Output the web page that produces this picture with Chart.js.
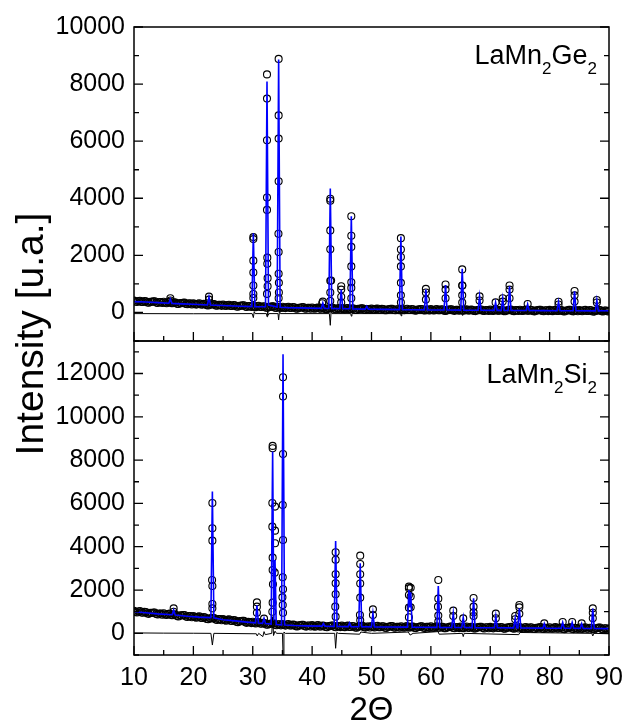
<!DOCTYPE html>
<html>
<head>
<meta charset="utf-8">
<title>LaMn2Ge2 / LaMn2Si2 XRD</title>
<script src="https://cdn.jsdelivr.net/npm/chart.js@4.4.0/dist/chart.umd.min.js"></script>
<style>
  body { margin: 0; background: #fff; }
  #wrap { position: relative; width: 626px; height: 727px; overflow: hidden; font-family: "Liberation Sans", Arial, sans-serif; }
  #topChart { position: absolute; left: 0; top: 0; }
  #bottomChart { position: absolute; left: 0; top: 340px; }
  #yTitle { position: absolute; left: -120px; top: 314px; width: 300px; height: 40px; line-height: 40px;
            text-align: center; font-size: 39px; color: #000; white-space: nowrap; transform: rotate(-90deg); }
</style>
</head>
<body>
<div id="wrap">
  <canvas id="topChart" width="626" height="342"></canvas>
  <canvas id="bottomChart" width="626" height="387"></canvas>
  <div id="yTitle">Intensity [u.a.]</div>
</div>
<script>
const FONT = '"Liberation Sans", Arial, sans-serif';

// axis ticks
const thetaTicks = [10, 20, 30, 40, 50, 60, 70, 80, 90];
const geTicks = [0, 2000, 4000, 6000, 8000, 10000];
const siTicks = [0, 2000, 4000, 6000, 8000, 10000, 12000];

// sample labels (normal, subscript, normal, subscript)
const geLabel = ['LaMn', '2', 'Ge', '2'];
const siLabel = ['LaMn', '2', 'Si', '2'];

// observed background, one value every 0.25 deg from 10 to 90 (one row = 5 deg)
const bgStart = 10;
const bgStep = 0.25;
const geBackground = [
  415, 383, 366, 399, 412, 370, 368, 396, 389, 347, 340, 373, 371, 389, 390, 345, 333, 366, 364, 332,
  375, 342, 325, 357, 370, 327, 325, 352, 345, 302, 295, 327, 325, 342, 343, 297, 285, 317, 315, 282,
  325, 292, 275, 307, 320, 277, 275, 302, 295, 252, 245, 277, 275, 292, 293, 247, 235, 267, 265, 232,
  275, 243, 226, 259, 272, 230, 228, 256, 249, 207, 200, 233, 231, 249, 250, 205, 193, 226, 224, 192,
  235, 203, 186, 220, 233, 191, 189, 218, 211, 169, 162, 196, 194, 212, 213, 169, 157, 190, 188, 157,
  200, 169, 152, 186, 200, 159, 157, 186, 180, 139, 132, 166, 165, 184, 185, 141, 130, 164, 162, 131,
  175, 144, 128, 162, 176, 135, 134, 163, 157, 116, 110, 144, 143, 162, 164, 120, 109, 143, 142, 111,
  155, 124, 108, 142, 156, 115, 114, 143, 137, 96, 90, 124, 123, 142, 144, 100, 89, 123, 122, 91,
  135, 105, 89, 124, 138, 98, 97, 127, 121, 81, 75, 110, 109, 129, 131, 88, 77, 112, 111, 81,
  125, 95, 79, 114, 128, 88, 87, 117, 111, 71, 65, 100, 99, 119, 121, 78, 67, 102, 101, 71,
  115, 85, 69, 104, 118, 78, 77, 107, 101, 61, 55, 90, 89, 109, 111, 68, 57, 92, 91, 61,
  105, 75, 60, 94, 109, 69, 68, 98, 93, 52, 47, 82, 81, 101, 104, 60, 50, 85, 85, 55,
  99, 69, 54, 89, 104, 63, 63, 93, 88, 48, 42, 77, 77, 97, 100, 56, 46, 81, 81, 51,
  95, 65, 50, 85, 100, 59, 59, 89, 84, 44, 38, 73, 73, 93, 96, 52, 42, 77, 77, 47,
  91, 61, 46, 81, 96, 55, 55, 85, 80, 40, 34, 69, 69, 89, 92, 48, 38, 73, 73, 43,
  87, 57, 42, 77, 92, 51, 51, 81, 76, 36, 30, 65, 65, 85, 88, 44, 34, 69, 69, 39,
  58
];
const siBackground = [
  1043, 991, 963, 1009, 1026, 960, 954, 993, 979, 913, 900, 947, 941, 965, 963, 893, 871, 918, 912, 861,
  926, 874, 846, 892, 909, 843, 837, 876, 862, 796, 783, 830, 824, 848, 846, 776, 754, 801, 795, 744,
  804, 751, 722, 767, 783, 716, 709, 747, 732, 665, 651, 697, 690, 713, 710, 639, 616, 662, 655, 603,
  665, 612, 584, 629, 646, 579, 573, 611, 597, 530, 517, 563, 557, 580, 578, 507, 485, 531, 525, 473,
  535, 483, 455, 501, 518, 452, 446, 485, 472, 407, 395, 443, 438, 463, 462, 394, 373, 422, 418, 369,
  433, 383, 358, 406, 426, 363, 360, 402, 391, 328, 319, 369, 367, 394, 396, 330, 312, 363, 361, 314,
  380, 332, 309, 359, 381, 319, 318, 361, 352, 291, 282, 334, 333, 362, 365, 300, 283, 335, 334, 288,
  355, 308, 285, 336, 358, 297, 296, 340, 331, 270, 262, 315, 314, 344, 347, 283, 266, 319, 318, 273,
  340, 293, 271, 322, 345, 284, 284, 328, 320, 259, 252, 304, 304, 333, 337, 272, 256, 308, 308, 262,
  330, 283, 261, 312, 335, 274, 274, 318, 310, 249, 242, 294, 294, 323, 327, 262, 246, 298, 298, 252,
  320, 273, 251, 302, 325, 264, 264, 308, 300, 239, 232, 284, 284, 313, 317, 252, 236, 288, 288, 242,
  310, 263, 241, 292, 315, 254, 254, 298, 290, 229, 222, 274, 274, 303, 307, 242, 226, 278, 278, 232,
  300, 253, 231, 282, 305, 244, 244, 288, 280, 219, 212, 264, 264, 293, 297, 232, 216, 268, 268, 222,
  290, 243, 221, 272, 295, 234, 234, 278, 270, 209, 202, 254, 254, 283, 287, 222, 206, 258, 258, 212,
  280, 233, 211, 262, 285, 224, 224, 268, 260, 199, 192, 244, 244, 273, 277, 212, 196, 248, 248, 202,
  270, 223, 201, 252, 275, 214, 214, 258, 250, 189, 182, 234, 234, 263, 267, 202, 186, 238, 238, 192,
  220
];

// observed points on the Bragg peaks [2θ, counts]
const gePeakObs = [
  [16.12, 495], [16.12, 420],
  [22.63, 553], [22.63, 450],
  [30.1, 2640], [30.1, 2570], [30.1, 1814], [30.1, 1400], [30.1, 942], [30.1, 648], [30.1, 506],
  [32.4, 8340], [32.4, 7492], [32.4, 6031], [32.4, 4029], [32.4, 3593], [32.45, 1920], [32.45, 1708],
  [32.5, 1201], [32.5, 919], [32.4, 650],
  [34.36, 8882], [34.36, 6903], [34.36, 6090], [34.36, 4594], [34.33, 2757], [34.36, 2120],
  [34.36, 1355], [34.4, 1037], [34.4, 700], [34.36, 500],
  [41.8, 380], [41.7, 320],
  [43.06, 3982], [43.06, 3911], [43.06, 2874], [43.06, 2215], [43.06, 1107], [43.2, 1120],
  [43.06, 700], [43.06, 400],
  [44.9, 919], [44.9, 800], [44.9, 550], [44.9, 350],
  [46.6, 3369], [46.6, 2686], [46.6, 2297], [46.6, 1614], [46.6, 1060], [46.6, 860], [46.6, 500],
  [54.95, 2603], [54.95, 2203], [54.95, 1944], [54.95, 1614], [54.95, 1037], [54.95, 600], [54.95, 350],
  [59.16, 825], [59.16, 700], [59.16, 450],
  [62.47, 978], [62.47, 800], [62.47, 500],
  [65.28, 1508], [65.28, 942], [65.3, 940], [65.28, 600], [65.28, 350],
  [68.2, 565], [68.2, 420],
  [70.9, 353],
  [72.1, 495], [72.1, 380],
  [73.25, 942], [73.25, 800], [73.25, 500],
  [76.3, 294],
  [81.5, 377], [81.5, 280],
  [84.2, 754], [84.2, 600], [84.2, 380],
  [87.95, 436], [87.95, 350]
];
const siPeakObs = [
  [16.68, 1155], [16.68, 1000],
  [23.2, 6021], [23.2, 4851], [23.2, 4281], [23.15, 2464], [23.2, 2187], [23.2, 1355], [23.2, 1155],
  [30.7, 1432], [30.7, 1232], [30.7, 950],
  [31.9, 678],
  [33.35, 8655], [33.35, 8550], [33.3, 6021], [33.3, 4928], [33.35, 3496], [33.35, 2926],
  [33.4, 2264], [33.35, 1417], [33.3, 1000],
  [33.75, 5852], [33.75, 4743], [33.75, 4158], [33.7, 2803],
  [35.1, 11827], [35.1, 10934], [35.1, 8285], [35.05, 5929], [35.1, 4312], [35.05, 2587],
  [35.1, 2033], [35.0, 1663], [35.05, 1309], [35.1, 950],
  [43.96, 3742], [43.96, 3400], [43.96, 2726], [43.96, 2310], [43.96, 1802], [43.9, 1232], [43.96, 770],
  [48.1, 3588], [48.1, 3203], [48.1, 2726], [48.1, 2300], [48.1, 1648], [48.05, 847], [48.1, 600],
  [50.24, 1109], [50.24, 850],
  [56.3, 2156], [56.3, 2079], [56.3, 1771], [56.3, 1186], [56.3, 740], [56.6, 2100], [56.6, 1700], [56.6, 1200],
  [61.25, 2464], [61.25, 1602], [61.2, 1232], [61.25, 820], [61.25, 540],
  [63.77, 1047], [63.77, 800],
  [65.45, 693],
  [67.19, 1632], [67.19, 1232], [67.19, 970], [67.19, 800],
  [70.94, 909], [70.94, 700],
  [74.2, 800], [74.2, 650],
  [74.9, 1309], [74.9, 1200], [74.9, 900],
  [79.1, 462],
  [82.2, 524],
  [83.8, 524],
  [85.4, 462],
  [87.27, 1155], [87.27, 950], [87.27, 700]
];

// calculated (Rietveld) profile [2θ, counts]
const geCalc = [
  [10, 380], [12, 365], [14, 345], [15.87, 322], [16.12, 470], [16.37, 318], [18, 300], [20, 285],
  [22.38, 262], [22.63, 540], [22.88, 258], [25, 245], [28, 215], [29.85, 205], [30.1, 2770], [30.35, 205],
  [32.15, 200], [32.4, 8090], [32.65, 260], [34.11, 190], [34.36, 8860], [34.61, 185], [36, 168],
  [38, 160], [41.55, 145], [41.8, 330], [42.05, 142], [42.81, 140], [43.06, 4340], [43.31, 138],
  [44.65, 134], [44.9, 800], [45.15, 130], [46.35, 128], [46.6, 3370], [46.85, 126], [48.95, 118],
  [49.2, 220], [49.45, 115], [52, 108], [54.7, 100], [54.95, 2660], [55.2, 98], [57, 94], [58.91, 90],
  [59.16, 800], [59.41, 88], [62.22, 86], [62.47, 960], [62.72, 85], [65.03, 82], [65.28, 1530],
  [65.53, 80], [67.95, 78], [68.2, 560], [68.45, 77], [70.65, 73], [70.9, 350], [71.15, 72],
  [71.85, 72], [72.1, 490], [72.35, 71], [73.0, 70], [73.25, 920], [73.5, 70], [76.05, 67],
  [76.3, 290], [76.55, 66], [79, 63], [81.25, 62], [81.5, 370], [81.75, 61], [83.95, 59],
  [84.2, 740], [84.45, 58], [87.7, 56], [87.95, 430], [88.2, 55], [90, 54]
];
const siCalc = [
  [10, 1000], [12, 950], [14, 900], [16.43, 858], [16.68, 1080], [16.93, 850], [19, 790], [21, 750],
  [22.95, 725], [23.2, 6545], [23.45, 715], [25, 630], [27, 575], [29, 520], [30.45, 484], [30.7, 1300],
  [30.95, 476], [31.65, 458], [31.9, 700], [32.15, 450], [33.1, 425], [33.35, 8393], [33.55, 600],
  [33.75, 3388], [33.95, 410], [34.85, 395], [35.1, 12890], [35.35, 388], [37, 360], [39, 345],
  [41.65, 335], [41.9, 450], [42.15, 332], [43.71, 320], [43.96, 4266], [44.21, 318], [46.05, 311],
  [46.3, 480], [46.55, 310], [47.85, 306], [48.1, 3234], [48.35, 305], [49.99, 301], [50.24, 924],
  [50.49, 300], [53, 294], [56.05, 287], [56.3, 2000], [56.45, 1200], [56.6, 1900], [56.85, 285],
  [59, 280], [61.0, 277], [61.25, 2187], [61.5, 276], [63.52, 272], [63.77, 924], [64.02, 272],
  [65.2, 269], [65.45, 740], [65.7, 268], [66.94, 265], [67.19, 1617], [67.44, 264], [70.69, 259],
  [70.94, 800], [71.19, 258], [73.95, 251], [74.2, 700], [74.45, 250], [74.65, 250], [74.9, 1155],
  [75.15, 249], [78.85, 241], [79.1, 450], [79.35, 240], [81.95, 235], [82.2, 500], [82.45, 234],
  [83.55, 232], [83.8, 500], [84.05, 232], [85.15, 229], [85.4, 450], [85.65, 228], [87.02, 226],
  [87.27, 1140], [87.52, 225], [90, 218]
];

// difference curve (obs - calc) [2θ, counts]
const geDiff = [
  [10, -40], [20, -45], [29.9, -40], [30.1, -180], [30.25, 30], [30.4, -40], [32.3, -40], [32.4, -150],
  [32.5, 120], [32.6, -100], [32.75, -40], [34.25, -40], [34.36, -260], [34.5, 60], [34.65, -40],
  [42.9, -40], [43.06, -450], [43.2, 60], [43.35, -40], [46.5, -40], [46.6, -130], [46.7, -40],
  [54.9, -40], [55.0, -120], [55.1, -40], [65.2, -40], [65.3, -100], [65.4, -40], [90, -50]
];
const siDiff = [
  [10, 20], [15, 10], [20, 5], [22.95, 0], [23.2, -540], [23.45, 0], [30.6, -20], [30.75, -120],
  [31, 0], [31.7, -150], [31.9, 80], [32.1, -60], [33.2, 0], [33.35, 770], [33.5, -100], [33.75, 100],
  [34, 0], [35.0, 0], [35.1, -1000], [35.25, 60], [35.5, 0], [43.8, 0], [43.96, -690], [44.15, 40],
  [44.4, 0], [48.0, -40], [48.2, 60], [50, 0], [56.2, 60], [56.5, -80], [57, 0], [61.2, 80],
  [61.4, -40], [65.3, 0], [65.45, -150], [65.6, 0], [74.8, -60], [75, 40], [87.1, 0], [87.27, -120],
  [87.45, 0], [90, -20]
];

// box around the plot area with inward ticks (left, right, bottom)
const frameTicks = {
  id: 'frameTicks',
  afterDraw(chart, args, opts) {
    const {ctx, chartArea: a, scales} = chart;
    ctx.save();
    ctx.strokeStyle = '#000';
    ctx.lineWidth = 1.5;
    ctx.strokeRect(a.left, a.top, a.right - a.left, a.bottom - a.top);

    ctx.lineWidth = 1.3;
    ctx.beginPath();
    const xs = scales.x;
    for (let v = thetaTicks[0]; v <= thetaTicks[thetaTicks.length - 1]; v += 5) {
      const px = xs.getPixelForValue(v);
      const len = thetaTicks.includes(v) ? 9 : 5;
      ctx.moveTo(px, a.bottom);
      ctx.lineTo(px, a.bottom - len);
    }
    const ys = scales.y;
    const majors = opts.yTicks;
    const half = (majors[1] - majors[0]) / 2;
    for (let v = majors[0] - half; v <= ys.max; v += half) {
      if (v < ys.min) continue;
      const py = ys.getPixelForValue(v);
      const len = majors.includes(v) ? 9 : 5;
      ctx.moveTo(a.left, py);
      ctx.lineTo(a.left + len, py);
      ctx.moveTo(a.right, py);
      ctx.lineTo(a.right - len, py);
    }
    ctx.stroke();
    ctx.restore();
  }
};

// compound name with subscripts, top right corner
const sampleLabel = {
  id: 'sampleLabel',
  afterDraw(chart, args, opts) {
    const {ctx, chartArea: a} = chart;
    const big = '27px ' + FONT;
    const small = '17px ' + FONT;
    ctx.save();
    let w = 0;
    opts.parts.forEach((t, i) => {
      ctx.font = i % 2 ? small : big;
      w += ctx.measureText(t).width;
    });
    let x = a.right - 12 - w;
    const base = a.top + opts.baseline;
    ctx.fillStyle = '#000';
    ctx.textBaseline = 'alphabetic';
    opts.parts.forEach((t, i) => {
      ctx.font = i % 2 ? small : big;
      ctx.fillText(t, x, i % 2 ? base + 10 : base);
      x += ctx.measureText(t).width;
    });
    ctx.restore();
  }
};

function createPattern(canvasId, background, peakObs, calc, diff, yMin, yMax, yTicks, label, labelBase, isBottom) {
    const canvas = document.getElementById(canvasId).getContext('2d');
    const observed = background.map((v, i) => ({x: bgStart + i * bgStep, y: v}))
        .concat(peakObs.map(p => ({x: p[0], y: p[1]})));

    return new Chart(canvas, {
        type: 'scatter',
        data: {
            datasets: [{
                label: 'calc',
                data: calc.map(p => ({x: p[0], y: p[1]})),
                showLine: true,
                borderColor: '#0000ff',
                borderWidth: 1.6,
                pointRadius: 0,
                order: 0
            }, {
                label: 'obs - calc',
                data: diff.map(p => ({x: p[0], y: p[1]})),
                showLine: true,
                borderColor: '#000',
                borderWidth: 1,
                pointRadius: 0,
                order: 1
            }, {
                label: 'obs',
                data: observed,
                pointStyle: 'circle',
                pointRadius: 3.5,
                borderColor: '#000',
                borderWidth: 1.1,
                backgroundColor: 'rgba(0,0,0,0)',
                order: 2
            }]
        },
        options: {
            responsive: false,
            animation: false,
            layout: {
                autoPadding: false,
                padding: isBottom ? {top: 1, right: 17, bottom: 0, left: 0}
                                  : {top: 27, right: 17, bottom: 1, left: 0}
            },
            plugins: {
                legend: {display: false},
                tooltip: {enabled: false},
                frameTicks: {yTicks: yTicks},
                sampleLabel: {parts: label, baseline: labelBase}
            },
            scales: {
                x: {
                    type: 'linear',
                    min: 10,
                    max: 90,
                    display: isBottom,
                    grid: {display: false, drawTicks: false},
                    border: {display: false},
                    afterBuildTicks: s => { s.ticks = thetaTicks.map(v => ({value: v})); },
                    ticks: {color: '#000', font: {size: 25, family: FONT}, padding: 8, maxRotation: 0,
                            callback: v => String(v)},
                    title: {display: true, text: '2Θ', color: '#000',
                            font: {size: 33, family: FONT, lineHeight: 1}, padding: {top: 0, bottom: 0}},
                    afterFit: s => { s.height = isBottom ? 72 : 0; s.paddingLeft = 0; s.paddingRight = 0; }
                },
                y: {
                    min: yMin,
                    max: yMax,
                    grid: {display: false, drawTicks: false},
                    border: {display: false},
                    afterBuildTicks: s => { s.ticks = yTicks.map(v => ({value: v})); },
                    ticks: {color: '#000', font: {size: 25, family: FONT}, padding: 9,
                            callback: v => String(v)},
                    afterFit: s => { s.width = 134; s.paddingTop = 0; s.paddingBottom = 0; }
                }
            }
        },
        plugins: [frameTicks, sampleLabel]
    });
}

createPattern('topChart', geBackground, gePeakObs, geCalc, geDiff, -1000, 10000, geTicks, geLabel, 37, false);
createPattern('bottomChart', siBackground, siPeakObs, siCalc, siDiff, -1000, 13500, siTicks, siLabel, 42, true);
</script>
</body>
</html>
